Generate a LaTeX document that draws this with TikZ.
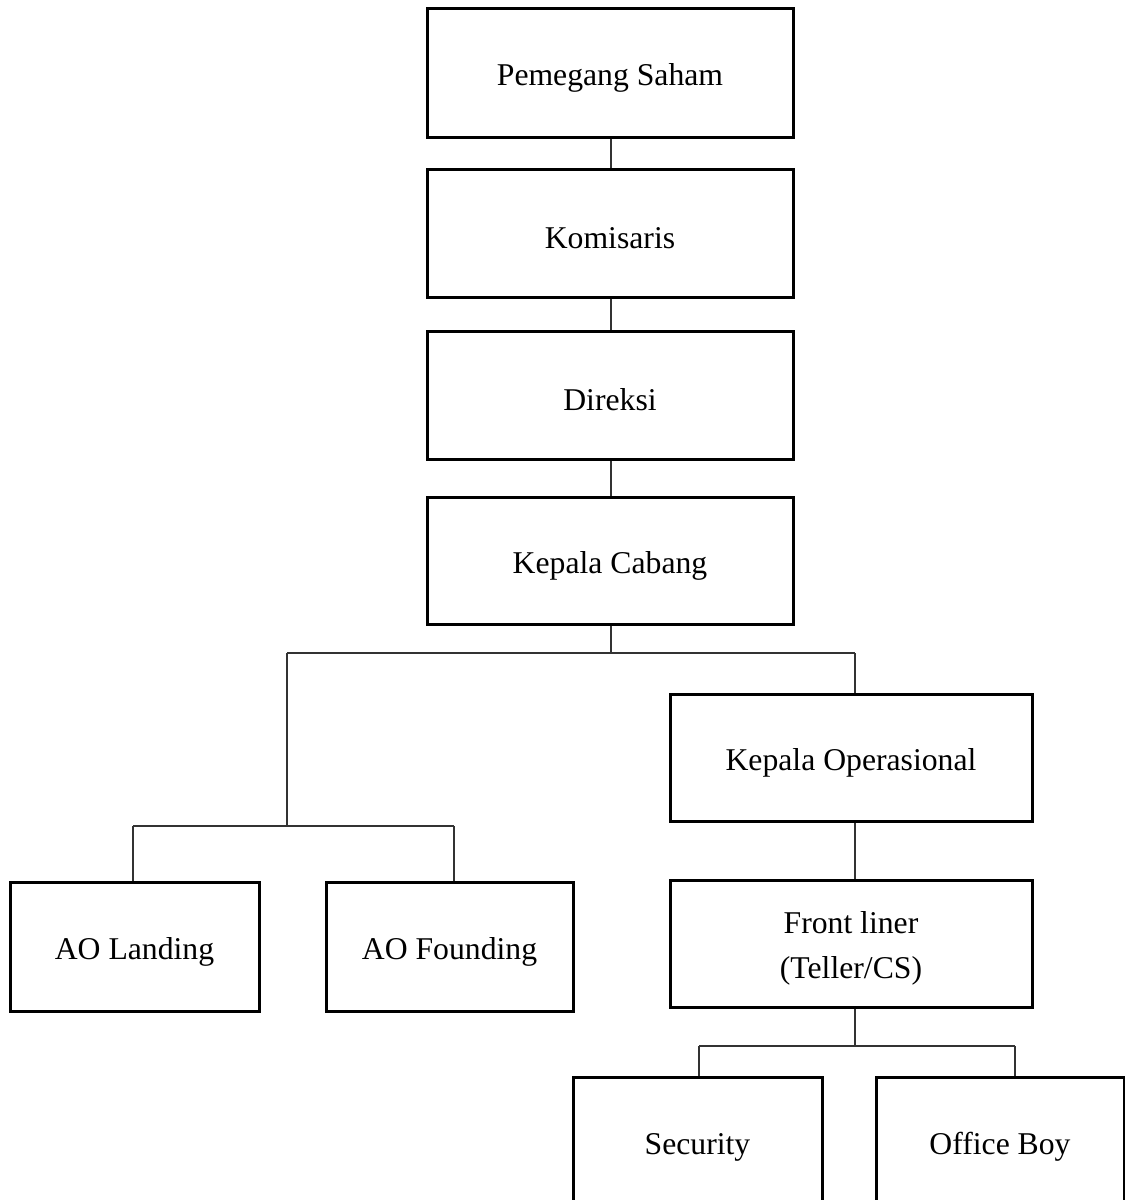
\documentclass[tikz,border=0pt]{standalone}
\usepackage{fontspec}
\setmainfont{Liberation Serif}
\begin{document}
\begin{tikzpicture}[x=1pt,y=-1pt,
  orgbox/.style={draw=black,line width=3pt,fill=white,inner sep=0pt},
  lbl/.style={inner sep=0pt,align=center,yshift=-5pt,
    font=\fontsize{31.7}{45}\selectfont},
  conn/.style={draw=black!80,line width=1.4pt}]
\useasboundingbox (0,0) rectangle (1125,1200);
\node[orgbox,minimum width=366pt,minimum height=129pt,label={[lbl]center:Pemegang Saham}] (ps) at (610,72.5) {};
\node[orgbox,minimum width=366pt,minimum height=128pt,label={[lbl]center:Komisaris}] (kom) at (610,233) {};
\node[orgbox,minimum width=366pt,minimum height=128pt,label={[lbl]center:Direksi}] (dir) at (610,395) {};
\node[orgbox,minimum width=366pt,minimum height=127pt,label={[lbl]center:Kepala Cabang}] (kc) at (610,560.5) {};
\node[orgbox,minimum width=362pt,minimum height=127pt,label={[lbl]center:Kepala Operasional}] (ko) at (851,757.5) {};
\node[orgbox,minimum width=249pt,minimum height=129pt,label={[lbl]center:AO Landing}] (al) at (134.5,946.5) {};
\node[orgbox,minimum width=247pt,minimum height=129pt,label={[lbl]center:AO Founding}] (af) at (449.5,946.5) {};
\node[orgbox,minimum width=362pt,minimum height=127pt,label={[lbl]center:Front liner\\(Teller/CS)}] (fl) at (851,943.5) {};
\node[orgbox,minimum width=249pt,minimum height=130pt,label={[lbl]center:Security}] (sec) at (697.5,1142) {};
\node[orgbox,minimum width=248pt,minimum height=130pt,label={[lbl]center:Office Boy}] (ob) at (1000,1142) {};
% connectors
\coordinate (j1) at (611,653);
\coordinate (jl) at (287,653);
\coordinate (jr) at (855,653);
\coordinate (j2) at (287,826);
\coordinate (j2l) at (133,826);
\coordinate (j2r) at (454,826);
\coordinate (j3) at (855,1046);
\coordinate (j3l) at (699,1046);
\coordinate (j3r) at (1015,1046);
\draw[conn] (ps.south -| j1) -- (kom.north -| j1);
\draw[conn] (kom.south -| j1) -- (dir.north -| j1);
\draw[conn] (dir.south -| j1) -- (kc.north -| j1);
\draw[conn] (kc.south -| j1) -- (j1);
\draw[conn] (jl) -- (jr);
\draw[conn] (jr) -- (ko.north -| jr);
\draw[conn] (jl) -- (j2);
\draw[conn] (j2l) -- (j2r);
\draw[conn] (j2l) -- (al.north -| j2l);
\draw[conn] (j2r) -- (af.north -| j2r);
\draw[conn] (ko.south -| jr) -- (fl.north -| jr);
\draw[conn] (fl.south -| j3) -- (j3);
\draw[conn] (j3l) -- (j3r);
\draw[conn] (j3l) -- (sec.north -| j3l);
\draw[conn] (j3r) -- (ob.north -| j3r);
\end{tikzpicture}
\end{document}
